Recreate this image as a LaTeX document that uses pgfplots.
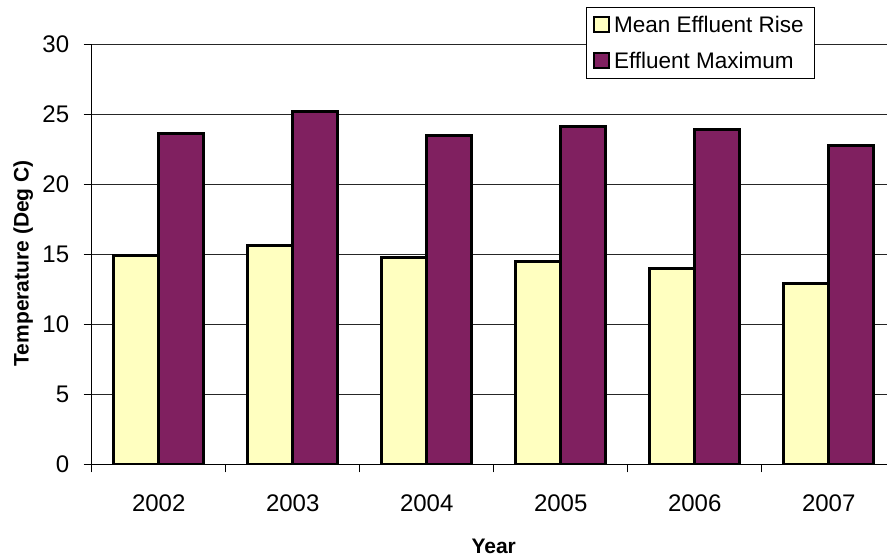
\documentclass[border=0pt]{standalone}
\usepackage{fontspec}
\setmainfont{Liberation Sans}
\usepackage{pgfplots}
\pgfplotsset{compat=1.18}
\definecolor{meanrise}{RGB}{255,255,192}
\definecolor{effmax}{RGB}{128,32,96}
\pgfplotsset{sqlegend/.style={legend image code/.code={\draw[##1, draw=black, line width=1.8bp] (0bp,-7.5bp) rectangle (15bp,7.5bp);}}}
\pgfplotstableread{
x mean max
0 14.9 23.6
1 15.6 25.2
2 14.8 23.5
3 14.5 24.1
4 14.0 23.9
5 12.9 22.8
}\datatable
\begin{document}
\begin{tikzpicture}
\path[use as bounding box] (0,0) rectangle (887bp,556bp);
\begin{axis}[
  at={(91.7bp,91.7bp)}, anchor=south west,
  scale only axis, width=795.3bp, height=420bp,
  xmin=-0.5, xmax=5.435, ymin=0, ymax=30,
  axis lines=left, axis line style={-, black, line width=1.2bp},
  tick align=outside, tick pos=left,
  xtick={0,1,2,3,4,5},
  xticklabels={2002,2003,2004,2005,2006,2007},
  major x tick style={draw=none},
  minor xtick={-0.5,0.5,1.5,2.5,3.5,4.5},
  minor tick length=8bp, major tick length=8bp,
  tick style={black, line width=1bp},
  ytick={0,5,...,30},
  ymajorgrids=true,
  grid style={black!85, line width=1bp},
  /pgf/number format/assume math mode=true,
  ticklabel style={font=\fontsize{24bp}{28bp}\selectfont},
  yticklabel style={xshift=-11bp},
  xticklabel style={yshift=-19bp},
  xlabel={Year},
  ylabel={Temperature (Deg C)},
  label style={font=\bfseries\fontsize{21bp}{25bp}\selectfont},
  xlabel style={at={(axis description cs:0.5055,-0.2119)}, anchor=base},
  ylabel style={at={(axis description cs:-0.0860,0.4786)}, anchor=center},
  legend style={at={(axis description cs:0.6211,1.0895)}, anchor=north west,
    draw=black, line width=0.8bp, fill=white,
    font=\fontsize{22.5bp}{27bp}\selectfont,
    inner xsep=7.2bp, inner ysep=9bp, row sep=19.3bp, column sep=4bp,
    nodes={inner sep=0bp, text height=16.4bp, text depth=0bp}},
  legend cell align=left,
]
\addplot[ybar, bar width=45bp, bar shift=-22.5bp, fill=meanrise, draw=black, line width=3bp, sqlegend] table[x=x, y=mean] {\datatable};
\addlegendentry{Mean Effluent Rise\hspace*{3.7bp}}
\addplot[ybar, bar width=45bp, bar shift=22.5bp, fill=effmax, draw=black, line width=3bp, sqlegend] table[x=x, y=max] {\datatable};
\addlegendentry{Effluent Maximum}
\end{axis}
\end{tikzpicture}
\end{document}
